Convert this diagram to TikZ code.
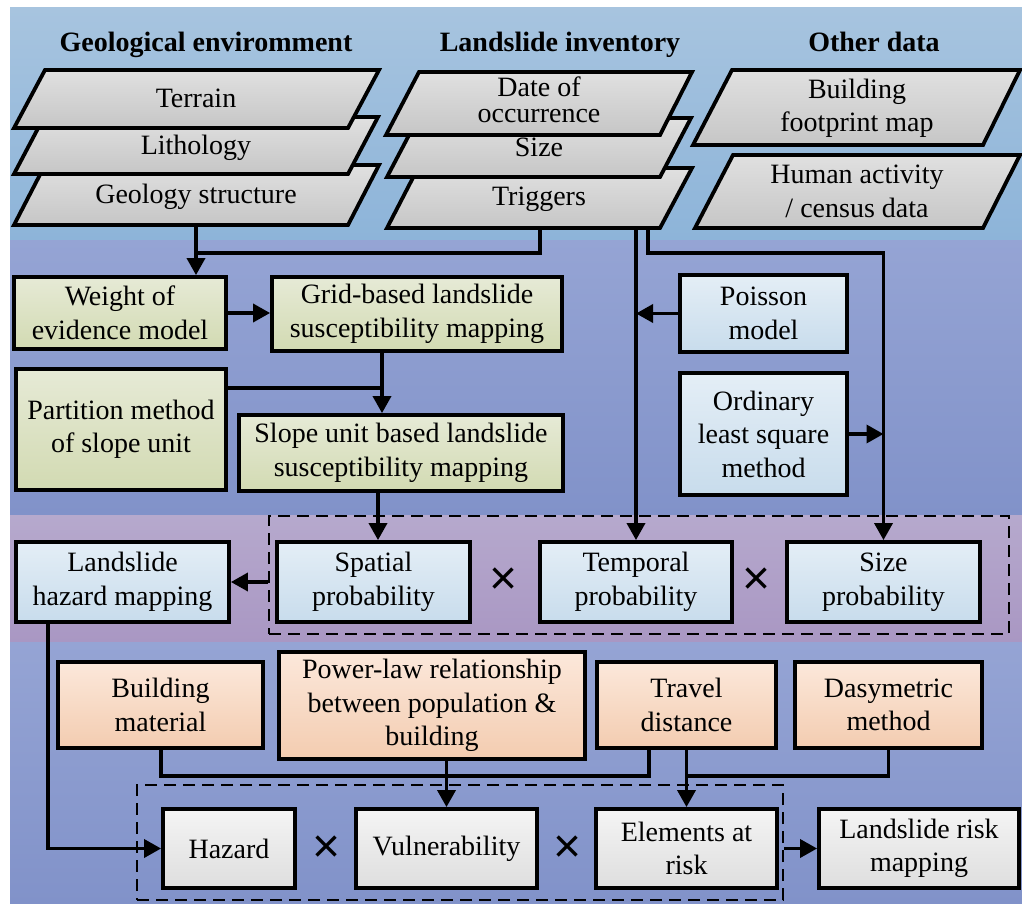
\documentclass[tikz,border=0pt]{standalone}
\usepackage{fontspec}
\setmainfont{Liberation Serif}
\newfontfamily\symfont{Liberation Sans}
\usetikzlibrary{arrows.meta}
\definecolor{bandAT}{HTML}{A7C4DF}
\definecolor{bandAB}{HTML}{8DB4D9}
\definecolor{bandBT}{HTML}{95A4D4}
\definecolor{bandBB}{HTML}{8192C9}
\definecolor{bandCT}{HTML}{B6A9CD}
\definecolor{bandCB}{HTML}{A997C3}
\definecolor{parT}{HTML}{E0E0E0}
\definecolor{parB}{HTML}{C6C6C6}
\definecolor{grT}{HTML}{E6EAD6}
\definecolor{grB}{HTML}{D2DAB2}
\definecolor{blT}{HTML}{E4EEF6}
\definecolor{blB}{HTML}{C8DCEC}
\definecolor{saT}{HTML}{FCE8DB}
\definecolor{saB}{HTML}{F3CCB0}
\definecolor{whT}{HTML}{F4F4F4}
\definecolor{whB}{HTML}{DEDEDE}
% \bxn{style}{x1}{y1}{x2}{y2}{name}{text}
\newcommand\bxn[7]{\node[#1, minimum width={(#4-#2)*1pt}, minimum height={(#5-#3)*1pt}] (#6) at ({(#2+#4)/2},{(#3+#5)/2}) {#7};}
\begin{document}
\begin{tikzpicture}[x=1pt,y=-1pt,
  every node/.style={font=\fontsize{28}{33.5}\selectfont},
  bx/.style={draw, line width=3.8pt, inner sep=0pt, align=center},
  boxG/.style={bx, top color=grT, bottom color=grB},
  boxB/.style={bx, top color=blT, bottom color=blB},
  boxS/.style={bx, top color=saT, bottom color=saB},
  boxW/.style={bx, top color=whT, bottom color=whB},
  para/.style={draw, line width=3.8pt, top color=parT, bottom color=parB, line join=miter},
  ptxt/.style={anchor=base, align=center, inner sep=0pt},
  head/.style={anchor=base, inner sep=0pt, font=\fontsize{28}{33}\selectfont\bfseries},
  conn/.style={line width=3.5pt},
  arr/.style={conn, -{Triangle[length=17pt,width=18pt]}},
  dbox/.style={draw, line width=2pt, dash pattern=on 12pt off 7pt, inner sep=0pt},
  cross/.style={font=\symfont\fontsize{48}{48}\selectfont, inner sep=0pt}
]
\useasboundingbox (0,0) rectangle (1022,904);
% bands
\path[top color=bandAT, bottom color=bandAB] (10,8) rectangle (1022,240);
\path[top color=bandBT, bottom color=bandBB] (10,240) rectangle (1022,515);
\path[top color=bandCT, bottom color=bandCB] (10,515) rectangle (1022,642);
\path[top color=bandBT, bottom color=bandBB] (10,642) rectangle (1022,904);
% headings
\node[head] (h1) at (206,52) {Geological enviromment};
\node[head] (h2) at (560,52) {Landslide inventory};
\node[head] (h3) at (874,52) {Other data};
% geological stack
\path[para] (14,225) -- (348,225) -- (379,165) -- (45,165) -- cycle;
\node[ptxt] (geo) at (196,204) {Geology structure};
\path[para] (14,174) -- (348,174) -- (378,117) -- (44,117) -- cycle;
\node[ptxt] (lith) at (196,155) {Lithology};
\path[para] (14,128) -- (348,128) -- (379,70) -- (45,70) -- cycle;
\node[ptxt] (terr) at (196,108) {Terrain};
% inventory stack
\path[para] (387,228) -- (660,228) -- (692,168) -- (418,168) -- cycle;
\node[ptxt] (trig) at (539,205) {Triggers};
\path[para] (387,177) -- (660,177) -- (691,118) -- (418,118) -- cycle;
\node[ptxt] (size) at (539,157) {Size};
\path[para] (386,135) -- (660,135) -- (692,72) -- (419,72) -- cycle;
\node[ptxt, font=\fontsize{28}{26.5}\selectfont] (date) at (539,123) {Date of\\occurrence};
% other data
\path[para] (693,145) -- (983,145) -- (1020,70) -- (732,70) -- cycle;
\node[ptxt] (bfm) at (857,132) {Building\\footprint map};
\path[para] (695,228) -- (983,228) -- (1020,155) -- (733,155) -- cycle;
\node[ptxt] (hum) at (857,217) {Human activity\\/ census data};
% coordinates on stack bottoms
\coordinate (geoB) at (196,225);
\coordinate (trigB1) at (540,228);
\coordinate (trigB2) at (636,228);
\coordinate (trigB3) at (648,228);
\coordinate (j1) at (196,253);
% band 2 boxes
\bxn{boxG}{14}{277}{226}{349}{woe}{Weight of\\evidence model}
\bxn{boxG}{272}{277}{562}{351}{grid}{Grid-based landslide\\susceptibility mapping}
\bxn{boxG}{16}{369}{226}{490}{part}{Partition method\\of slope unit}
\bxn{boxG}{239}{415}{563}{491}{slope}{Slope unit based landslide\\susceptibility mapping}
\bxn{boxB}{680}{275}{847}{352}{pois}{Poisson\\model}
\bxn{boxB}{680}{373}{847}{495}{ols}{Ordinary\\least square\\method}
% band 3
\bxn{dbox}{269}{516}{1009}{634}{dash1}{}
\bxn{boxB}{16}{542}{229}{622}{hmap}{Landslide\\hazard mapping}
\bxn{boxB}{277}{542}{470}{622}{spat}{Spatial\\probability}
\bxn{boxB}{540}{542}{732}{622}{temp}{Temporal\\probability}
\bxn{boxB}{787}{542}{980}{622}{sizep}{Size\\probability}
\node[cross] (x1) at (504,581) {×};
\node[cross] (x2) at (757,581) {×};
% band 4
\bxn{boxS}{58}{662}{263}{748}{bmat}{Building\\material}
\bxn{boxS}{279}{652}{585}{759}{pl}{Power-law relationship\\between population \&\\building}
\bxn{boxS}{597}{662}{776}{748}{trav}{Travel\\distance}
\bxn{boxS}{795}{662}{982}{748}{dasy}{Dasymetric\\method}
\bxn{dbox}{137}{785}{783}{900}{dash2}{}
\bxn{boxW}{163}{809}{295}{888}{hazard}{Hazard}
\bxn{boxW}{356}{809}{537}{888}{vul}{Vulnerability}
\bxn{boxW}{596}{809}{777}{888}{ear}{Elements at\\risk}
\bxn{boxW}{819}{809}{1019}{888}{lrm}{Landslide risk\\mapping}
\node[cross] (x3) at (327,849) {×};
\node[cross] (x4) at (568,849) {×};
% connectors
\draw[arr] (geoB) -- (geoB |- woe.north);
\draw[conn] (trigB1) |- (j1);
\draw[arr] (trigB2) -- (trigB2 |- temp.north);
\draw[arr] (trigB3) |- (sizep.north |- j1) -- (sizep.north);
\draw[arr] (pois.west) -- (pois.west -| trigB2);
\draw[arr] (ols.east) -- (ols.east -| sizep.north);
\draw[arr] (woe.east) -- (grid.west |- woe.east);
\coordinate (gx) at (382,351);
\draw[arr] (gx) -- (gx |- slope.north);
\coordinate (pj) at (382,388);
\draw[conn] (pj -| part.east) -- (pj);
\coordinate (sx) at (378,491);
\draw[arr] (sx) -- (sx |- spat.north);
\draw[arr] (hmap.east -| dash1.west) -- (hmap.east);
\coordinate (hx) at (48,622);
\draw[arr] (hx) |- (hazard.west);
\coordinate (bmx) at (161,748);
\coordinate (tx) at (649,748);
\coordinate (r4) at (0,776);
\draw[conn] (bmx) |- (tx |- r4) -- (tx);
\draw[arr] (vul.north |- pl.south) -- (vul.north);
\draw[arr] (trav.south) -- (ear.north);
\draw[conn] (dasy.south) |- (ear.north |- r4);
\draw[arr] (dash2.east |- lrm.west) -- (lrm.west);
\end{tikzpicture}
\end{document}
